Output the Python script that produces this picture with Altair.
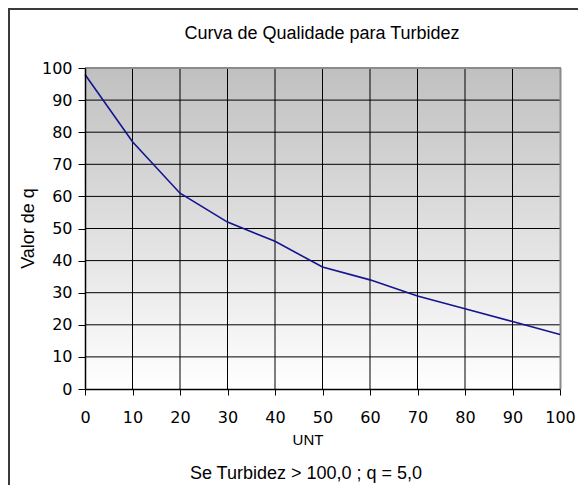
import altair as alt
import pandas as pd

# Data
unt = [0, 10, 20, 30, 40, 50, 60, 70, 80, 90, 100]
q_values = [98, 77, 61, 52, 46, 38, 34, 29, 25, 21, 17]
x_ticks = [0, 10, 20, 30, 40, 50, 60, 70, 80, 90, 100]
y_ticks = [0, 10, 20, 30, 40, 50, 60, 70, 80, 90, 100]
x_grid = [10, 20, 30, 40, 50, 60, 70, 80, 90]
y_grid = [10, 20, 30, 40, 50, 60, 70, 80, 90]

title_text = "Curva de Qualidade para Turbidez"
subtitle_text = "Se Turbidez > 100,0 ; q = 5,0"
x_title = "UNT"
y_title = "Valor de q"

W, H = 475, 321
PL, PT, PR, PB = 77, 60, 18, 96

xs = alt.Scale(domain=[0, 100], nice=False, zero=False)
ys = alt.Scale(domain=[0, 100], nice=False, zero=False)

x_axis = alt.Axis(values=x_ticks, title=None, grid=False, domainColor="#000000",
                  domainWidth=1.5, tickColor="#000000", tickSize=6, tickWidth=1,
                  labelFont="DejaVu Sans", labelFontSize=16, labelColor="#000000",
                  labelPadding=14, labelFlush=False, labelOverlap=False, zindex=1)
y_axis = alt.Axis(values=y_ticks, title=None, grid=False, domainColor="#000000",
                  domainWidth=1.5, tickColor="#000000", tickSize=7, tickWidth=1,
                  labelFont="DejaVu Sans", labelFontSize=16, labelColor="#000000",
                  labelPadding=6, labelFlush=False, labelOverlap=False, zindex=1)

curve = pd.DataFrame({"unt": unt, "q": q_values})
one = pd.DataFrame({"k": [0]})

bg = alt.Chart(one).mark_rect(
    fill=alt.LinearGradient(
        gradient="linear", x1=0, y1=0, x2=0, y2=1,
        stops=[alt.GradientStop(offset=0, color="#c0c0c0"),
               alt.GradientStop(offset=1, color="#ffffff")],
    ),
    strokeWidth=0,
).encode(x=alt.value(0), x2=alt.value(W), y=alt.value(0), y2=alt.value(H))

vgrid = alt.Chart(pd.DataFrame({"g": x_grid})).mark_rule(color="#000000", strokeWidth=1).encode(
    x=alt.X("g:Q", scale=xs, axis=x_axis), y=alt.value(0), y2=alt.value(H))
hgrid = alt.Chart(pd.DataFrame({"g": y_grid})).mark_rule(color="#000000", strokeWidth=1).encode(
    y=alt.Y("g:Q", scale=ys, axis=y_axis), x=alt.value(0), x2=alt.value(W))

border_top = alt.Chart(one).mark_rule(color="#8a8a8a", strokeWidth=2).encode(
    x=alt.value(0), x2=alt.value(W + 1), y=alt.value(0))
border_right = alt.Chart(one).mark_rule(color="#8a8a8a", strokeWidth=2).encode(
    x=alt.value(W + 0.5), y=alt.value(0), y2=alt.value(H))

line = alt.Chart(curve).mark_line(color="#141490", strokeWidth=1.6).encode(
    x=alt.X("unt:Q", scale=xs, axis=x_axis),
    y=alt.Y("q:Q", scale=ys, axis=y_axis),
)

title_mark = alt.Chart(one).mark_text(
    text=title_text, font="Liberation Sans", fontSize=18, color="#000000",
    align="center", baseline="alphabetic").encode(x=alt.value(237), y=alt.value(-29.5))
sub_mark = alt.Chart(one).mark_text(
    text=subtitle_text, font="Liberation Sans", fontSize=18, color="#000000",
    align="center", baseline="alphabetic").encode(x=alt.value(221), y=alt.value(411))
xt_mark = alt.Chart(one).mark_text(
    text=x_title, font="Liberation Sans Narrow, Liberation Sans", fontSize=15, color="#000000",
    align="center", baseline="alphabetic").encode(x=alt.value(223), y=alt.value(377))
yt_mark = alt.Chart(one).mark_text(
    text=y_title, font="Liberation Sans", fontSize=18, color="#000000", angle=270,
    align="center", baseline="alphabetic").encode(x=alt.value(-51), y=alt.value(H / 2))

frame_top = alt.Chart(one).mark_rule(color="#3a3a3a", strokeWidth=2).encode(
    x=alt.value(-PL), x2=alt.value(W + PR), y=alt.value(-PT + 1))
frame_left = alt.Chart(one).mark_rule(color="#3a3a3a", strokeWidth=2).encode(
    x=alt.value(-PL + 1), y=alt.value(-PT), y2=alt.value(H + PB))

chart = alt.layer(
    bg, vgrid, hgrid, border_top, border_right, line,
    title_mark, sub_mark, xt_mark, yt_mark, frame_top, frame_left,
).properties(
    width=W, height=H,
    autosize=alt.AutoSizeParams(type="none"),
    padding={"left": PL, "top": PT, "right": PR, "bottom": PB},
    background="#ffffff",
).configure_view(stroke=None)

chart.save("out.html", embed_options={"renderer": "svg", "actions": False})
